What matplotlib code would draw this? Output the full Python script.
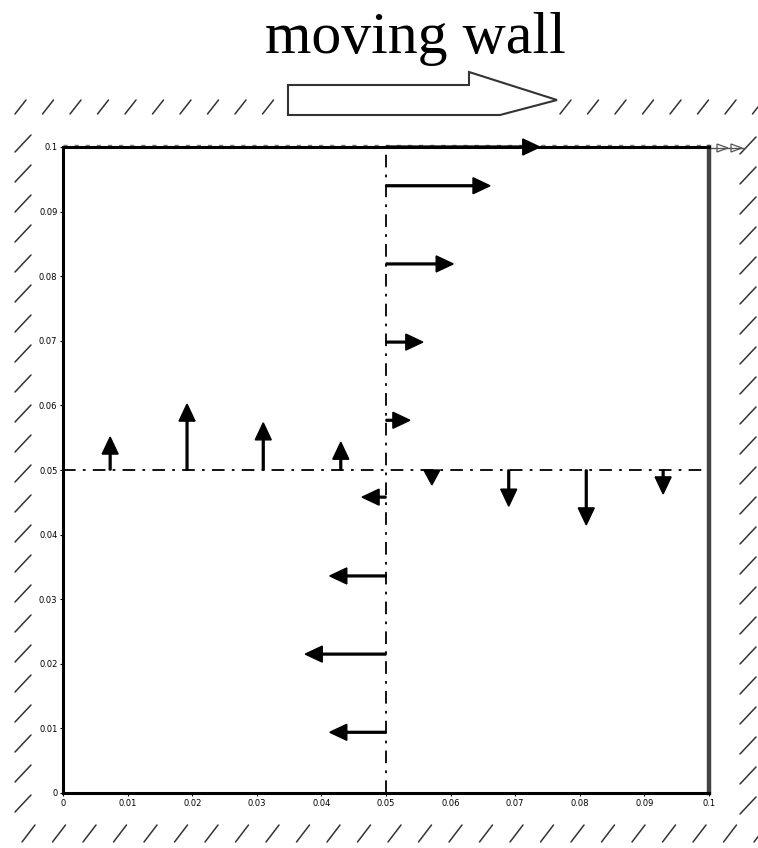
import numpy as np
import matplotlib
matplotlib.use("Agg")
import matplotlib.pyplot as plt
from matplotlib.patches import Polygon

# velocity profile along the vertical centreline x = 0.05 (u component)
h_y = [0.1, 0.094, 0.0819, 0.0698, 0.0577, 0.0458, 0.0336, 0.0215, 0.0094]
h_u = [0.0238, 0.0161, 0.0104, 0.0057, 0.0037, -0.0037, -0.0087, -0.0125, -0.0087]

# velocity profile along the horizontal centreline y = 0.05 (v component)
v_x = [0.0073, 0.0192, 0.031, 0.043, 0.0571, 0.069, 0.081, 0.0929]
v_v = [0.0051, 0.0102, 0.0073, 0.0043, -0.0023, -0.0056, -0.0085, -0.0037]

ticks = [0, 0.01, 0.02, 0.03, 0.04, 0.05, 0.06, 0.07, 0.08, 0.09, 0.1]
tick_labels = ["0", "0.01", "0.02", "0.03", "0.04", "0.05", "0.06", "0.07", "0.08", "0.09", "0.1"]

W, H = 758, 848
fig = plt.figure(figsize=(W / 100, H / 100), dpi=100)

# overlay in pixel coordinates for the walls and the title arrow
deco = fig.add_axes([0, 0, 1, 1])
deco.set_xlim(0, W)
deco.set_ylim(H, 0)
deco.axis("off")

hatch_kw = dict(color="#333333", lw=1.1, solid_capstyle="round")
# top wall (split around the big arrow)
for x0 in list(np.arange(15, 280, 27.5)) + list(np.arange(560, W, 27.5)):
    deco.plot([x0, x0 + 11], [114, 100], **hatch_kw)
# bottom wall
for x0 in np.arange(22, W, 30.5):
    deco.plot([x0, x0 + 13], [842, 825], **hatch_kw)
# left wall
for y0 in np.arange(143, 812, 30):
    deco.plot([15, 31], [y0 + 9, y0 - 8], **hatch_kw)
# right wall
for y0 in np.arange(145, 812, 30):
    deco.plot([740, 756], [y0 + 9, y0 - 8], **hatch_kw)

# big hollow "moving wall" arrow
big = Polygon([(288, 115), (288, 85), (469, 85), (469, 72), (557, 100),
               (500, 115)], closed=True, fc="white", ec="#333333", lw=1.5)
deco.add_patch(big)
deco.text(415, 39, "moving wall", family="Liberation Serif", fontsize=43,
          ha="center", va="center")

# dotted line just above the lid and small hollow arrows beyond it
deco.plot([63, 709], [145, 145], color="#777777", lw=1, ls=(0, (3, 5)))
deco.plot([709, 745], [148, 148], color="#555555", lw=1)
for xt in [728, 742]:
    deco.add_patch(Polygon([(xt, 148), (xt - 11, 144), (xt - 11, 152)],
                           closed=True, fc="white", ec="#555555", lw=0.9))

ax = fig.add_axes([63 / W, (H - 793) / H, 646 / W, 646 / H])
ax.set_facecolor("white")
ax.set_xlim(0, 0.1)
ax.set_ylim(0, 0.1)
ax.set_xticks(ticks)
ax.set_xticklabels(tick_labels)
ax.set_yticks(ticks)
ax.set_yticklabels(tick_labels)
ax.tick_params(labelsize=6, length=2, width=0.8, pad=2, colors="black")
for s in ax.spines.values():
    s.set_linewidth(2.2)
ax.spines["right"].set_linewidth(3.2)
ax.spines["right"].set_edgecolor("#444444")

ax.axvline(0.05, color="black", lw=1.3, ls=(0, (7, 4, 1.5, 4)), zorder=2)
ax.axhline(0.05, color="black", lw=1.3, ls=(0, (7, 4, 1.5, 4)), zorder=2)

px = 0.1 / 646
hl, hw, sw = 17 * px, 16 * px, 1.8 * px
for y, u in zip(h_y, h_u):
    ax.arrow(0.05, y, u, 0, width=sw, head_width=hw,
             head_length=min(hl, abs(u)), length_includes_head=True,
             fc="black", ec="black", clip_on=False, zorder=4)
for x, v in zip(v_x, v_v):
    ax.arrow(x, 0.05, 0, v, width=sw, head_width=hw,
             head_length=min(hl, abs(v)), length_includes_head=True,
             fc="black", ec="black", clip_on=False, zorder=4)

fig.savefig("out.png", dpi=100)
